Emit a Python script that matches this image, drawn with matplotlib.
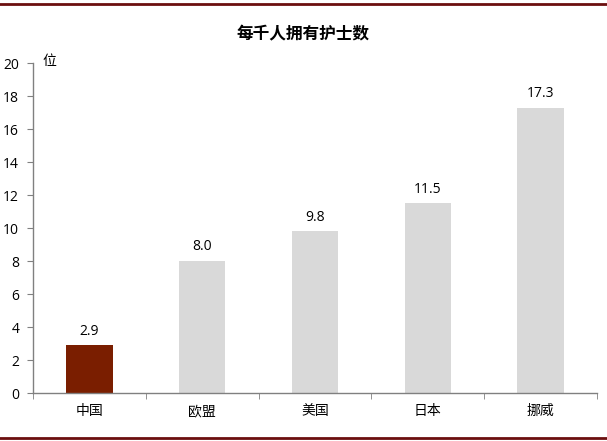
import matplotlib
matplotlib.use("Agg")
import matplotlib.pyplot as plt
from matplotlib.lines import Line2D

plt.rcParams['font.family'] = ['Noto Sans CJK SC', 'DejaVu Sans']

categories = ["中国", "欧盟", "美国", "日本", "挪威"]
values = [2.9, 8.0, 9.8, 11.5, 17.3]
colors = ["#7A1E00", "#D9D9D9", "#D9D9D9", "#D9D9D9", "#D9D9D9"]
yticks = [0, 2, 4, 6, 8, 10, 12, 14, 16, 18, 20]

fig = plt.figure(figsize=(6.07, 4.41), dpi=100)
ax = fig.add_axes([0.0544, 0.1088, 0.929, 0.748])

x = list(range(len(categories)))
ax.bar(x, values, width=0.41, color=colors, zorder=2)
for xi, v in zip(x, values):
    ax.text(xi, v + 0.4, f"{v:.1f}", ha="center", va="bottom", fontsize=10,
            family="Open Sans", color="#000000")

ax.set_xlim(-0.5, len(categories) - 0.5)
ax.set_ylim(0, 20)
ax.set_yticks(yticks)
ax.set_yticklabels([str(t) for t in yticks], fontsize=10, family="Open Sans")
ax.set_xticks(x)
ax.set_xticklabels(categories, fontsize=10)
ax.tick_params(axis="x", length=0, pad=8)
ax.tick_params(axis="y", direction="out", length=4, color="#808080", pad=6)
# boundary tick marks on x axis
ax.set_xticks([i - 0.5 for i in range(len(categories) + 1)], minor=True)
ax.tick_params(axis="x", which="minor", direction="out", length=4, color="#808080")

for s in ["top", "right"]:
    ax.spines[s].set_visible(False)
for s in ["left", "bottom"]:
    ax.spines[s].set_color("#808080")
    ax.spines[s].set_linewidth(1.0)

fig.text(0.5, 0.922, "每千人拥有护士数", ha="center", va="center", fontsize=12,
         fontweight="bold")
fig.text(0.082, 0.862, "位", ha="center", va="center", fontsize=10)

fig.add_artist(Line2D([0, 1], [0.991, 0.991], transform=fig.transFigure,
                      color="#6B0E0E", linewidth=2.0))
fig.add_artist(Line2D([0, 1], [0.007, 0.007], transform=fig.transFigure,
                      color="#6B0E0E", linewidth=2.0))

fig.savefig("out.png", dpi=100)
